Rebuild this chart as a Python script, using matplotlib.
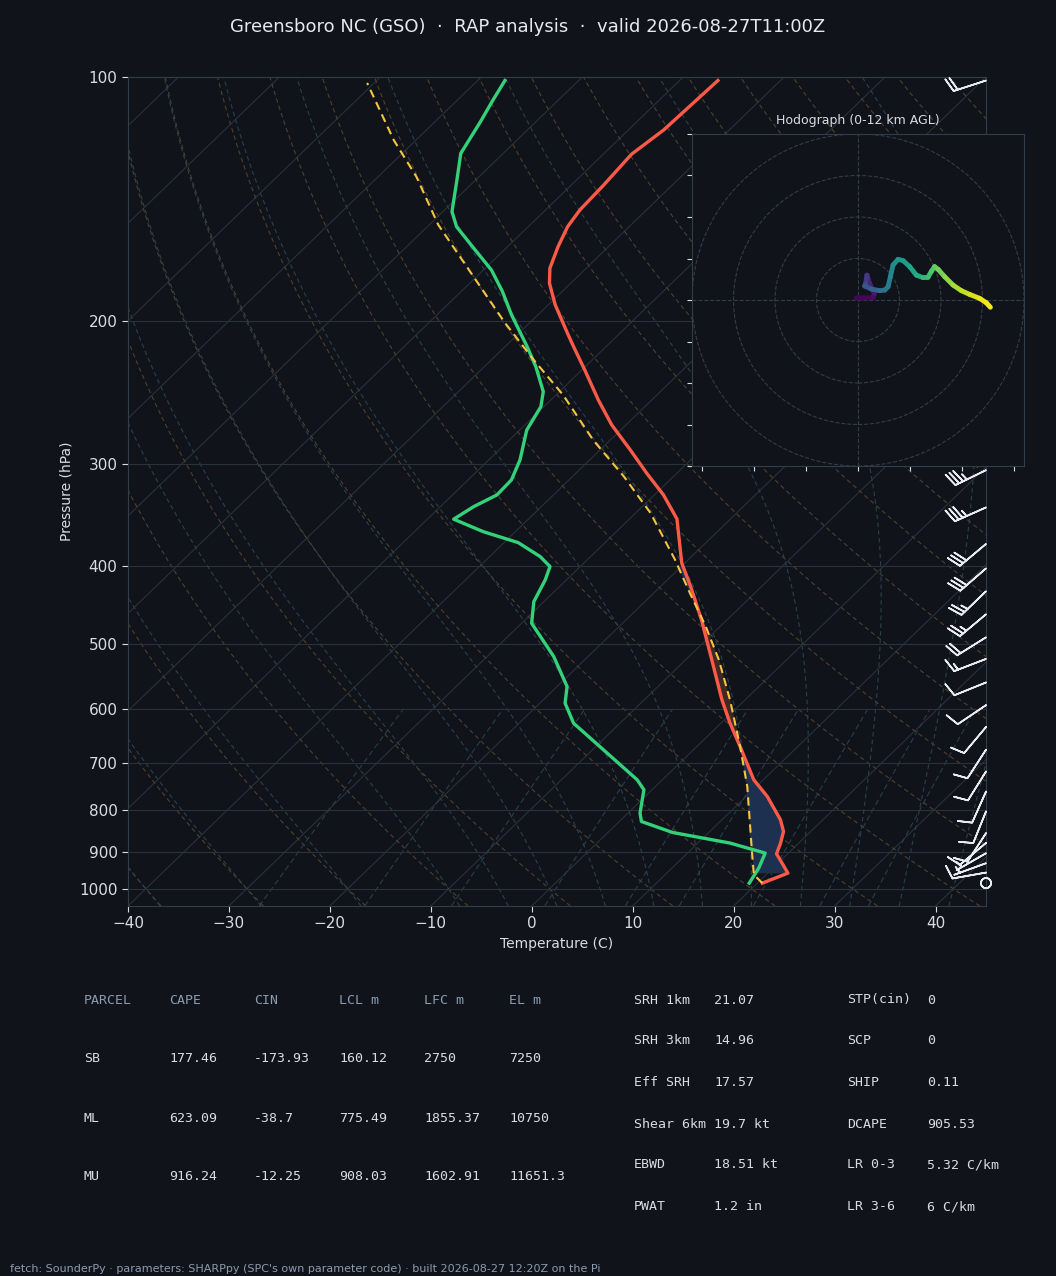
import numpy as np
import matplotlib.pyplot as plt
from matplotlib.collections import LineCollection
from matplotlib.patches import Circle
from matplotlib.ticker import NullLocator
from matplotlib.transforms import Affine2D, blended_transform_factory

# ---- sounding ----
t_pres = [984, 956.5, 929.7, 905.6, 878.4, 850.0, 822.2, 769.6, 734.0, 668.1,
          625.2, 585.1, 522.4, 466.6, 424.4, 397.0, 350.3, 327.2, 307.6, 288.0,
          268.3, 249.9, 229.6, 214.9, 206.8, 190.9, 179.5, 172.0, 161.8, 152.9,
          145.8, 135.8, 124.5, 116.2, 101]
t_temp = [20.5, 22.0, 20.4, 18.9, 18.2, 17.3, 15.8, 12.1, 9.05, 4.3,
          0.9, -2.3, -7.4, -12.5, -17.0, -20.3, -25.3, -29.1, -33.0, -37.0,
          -41.4, -45.3, -49.7, -53.2, -55.2, -59.3, -62.1, -63.6, -65.0, -66.1,
          -66.6, -66.8, -67.2, -66.5, -66.2]

d_pres = [984, 943, 903.7, 878.4, 852.3, 826.2, 806.8, 755.2, 734.0, 668.1,
          625.2, 590.6, 563.5, 517.5, 470.9, 442.9, 416.4, 400.9, 389.7, 374.6,
          363.1, 350.5, 338.2, 327.2, 313.6, 296.3, 272.2, 254.7, 244.1, 227.4,
          214.9, 196.4, 183.8, 172.9, 162.5, 152.9, 146.5, 133.3, 124.2, 113.5,
          107.3, 101]
d_temp = [19.2, 18.6, 17.7, 13.2, 6.4, 2.2, 1.2, -0.8, -2.5, -9.6,
          -14.6, -17.5, -19.0, -23.4, -29.0, -31.0, -32.1, -33.0, -35.0, -38.6,
          -43.2, -47.4, -46.7, -45.6, -45.7, -46.9, -49.3, -50.3, -51.6, -54.9,
          -57.8, -62.6, -65.9, -69.2, -73.2, -77.1, -79.1, -82.0, -84.2, -85.5,
          -86.4, -87.3]

pcl_pres = [984, 961, 903.7, 748.2, 668.1, 585.1, 522.4, 475.4, 432.4, 393.3,
            344.6, 310.6, 280.0, 246.4, 223.1, 201.0, 152.1, 132.7, 119.6, 101.7]
pcl_temp = [20.5, 18.8, 16.4, 9.1, 4.3, -1.5, -6.7, -11.4, -16.4, -21.3,
            -28.5, -34.9, -41.7, -49.3, -55.8, -62.4, -79.1, -86.2, -92.2, -100.7]

# wind barbs (speed kt, direction deg)
wb_pres = [101, 130, 160, 200, 240, 275, 305, 339, 376, 403, 430, 459, 490, 521,
           557, 594, 632, 674, 717, 759, 803, 854, 878, 904, 930, 955, 984]
wb_spd = [20, 30, 35, 40, 40, 35, 35, 35, 30, 30, 25, 25, 20, 15,
          10, 10, 10, 10, 10, 10, 10, 10, 10, 5, 5, 10, 0]
wb_dir = [252, 255, 260, 258, 252, 248, 244, 246, 230, 229, 226, 230, 238, 249,
          248, 236, 220, 213, 212, 204, 202, 213, 230, 240, 250, 260, 0]

# hodograph trace (kt) and height (km)
hodo_u = [-0.8, 7.2, 7.9, 5.9, 4.8, 4.3, 3.7, 3.2, 6.4, 10.4, 12.9, 14.5, 15.6, 16.9, 19.3,
          21.7, 24.9, 28.1, 31.3, 33.7, 35.3, 36.9, 38.6, 41.8, 45.8, 49.8, 53.8, 58.6, 61.8, 63.8]
hodo_v = [1.0, 1.1, 3.2, 7.2, 10.4, 12.0, 8.0, 6.7, 5.3, 4.5, 4.8, 6.4, 11.2, 16.9, 19.6,
          19.0, 16.1, 12.0, 10.8, 10.9, 13.7, 16.1, 14.8, 11.2, 7.2, 4.5, 2.7, 0.8, -1.3, -3.5]
hodo_z = [0, 0.3, 0.6, 1.0, 1.4, 1.7, 2.3, 2.8, 3.4, 4.0, 4.4, 4.8, 5.2, 5.7, 6.1,
          6.4, 6.8, 7.2, 7.7, 8.1, 8.5, 8.9, 9.2, 9.7, 10.2, 10.7, 11.1, 11.5, 11.8, 12.0]

# ---- parameter tables ----
parcel_head = ['PARCEL', 'CAPE', 'CIN', 'LCL m', 'LFC m', 'EL m']
parcel_rows = [['SB', '177.46', '-173.93', '160.12', '2750', '7250'],
               ['ML', '623.09', '-38.7', '775.49', '1855.37', '10750'],
               ['MU', '916.24', '-12.25', '908.03', '1602.91', '11651.3']]
kin_names = ['SRH 1km', 'SRH 3km', 'Eff SRH', 'Shear 6km', 'EBWD', 'PWAT']
kin_vals = ['21.07', '14.96', '17.57', '19.7 kt', '18.51 kt', '1.2 in']
comp_names = ['STP(cin)', 'SCP', 'SHIP', 'DCAPE', 'LR 0-3', 'LR 3-6']
comp_vals = ['0', '0', '0.11', '905.53', '5.32 C/km', '6 C/km']

title = 'Greensboro NC (GSO)  \u00b7  RAP analysis  \u00b7  valid 2026-08-27T11:00Z'
footer = ("fetch: SounderPy \u00b7 parameters: SHARPpy (SPC's own parameter code) "
          "\u00b7 built 2026-08-27 12:20Z on the Pi")

BG = '#10141a'
GRID = '#29313b'
SPINE = '#333d4a'
TXT = '#d9dde3'
HEAD = '#8c9bb0'

W, H = 1056, 1276
fig = plt.figure(figsize=(W / 100, H / 100), dpi=100, facecolor=BG)


def px(x, y):
    return x / W, 1 - y / H


ax = fig.add_axes([128 / W, 1 - 906 / H, 858 / W, 829 / H], facecolor=BG)
ax.set_yscale('log')
ax.set_ylim(1050, 100)
ax.set_xlim(-40, 45)
skew = ax.transScale + ax.transLimits + Affine2D().skew_deg(45, 0) + ax.transAxes

# isotherms
for t0 in np.arange(-130, 46, 10):
    ax.plot([t0, t0], [1050, 100], transform=skew, color=GRID, lw=0.8, zorder=1)

# dry adiabats
p_up = np.linspace(1050, 100, 200)
for th in np.arange(-40, 201, 10) + 273.15:
    ax.plot(th * (p_up / 1000.0) ** 0.2857 - 273.15, p_up, transform=skew,
            color='#4f402e', lw=0.8, ls=(0, (4, 3)), zorder=1)

# moist adiabats
Rd, Cp, Lv, eps = 287.04, 1005.7, 2.501e6, 0.622


def dtdp(p, t):
    es = 6.112 * np.exp(17.67 * (t - 273.15) / (t - 29.65))
    rs = eps * es / (p - es)
    return (Rd * t + Lv * rs) / (Cp + Lv ** 2 * rs * eps / (Rd * t ** 2)) / p


def integrate(t0, plevs):
    out = [t0]
    for p1, p2 in zip(plevs[:-1], plevs[1:]):
        h = p2 - p1
        tt = out[-1]
        k1 = dtdp(p1, tt)
        k2 = dtdp(p1 + h / 2, tt + h / 2 * k1)
        k3 = dtdp(p1 + h / 2, tt + h / 2 * k2)
        k4 = dtdp(p2, tt + h * k3)
        out.append(tt + h / 6 * (k1 + 2 * k2 + 2 * k3 + k4))
    return np.array(out)


t_moist = np.concatenate((np.arange(-50, -10, 10), np.arange(-10, 46, 5))) + 273.15
pu = np.linspace(1000, 100, 181)
pd = np.array([1000, 1025, 1050])
tu = integrate(t_moist, pu)
td_ = integrate(t_moist, pd)
for i in range(len(t_moist)):
    pp = np.concatenate((pd[::-1], pu[1:]))
    tt = np.concatenate((td_[::-1, i], tu[1:, i])) - 273.15
    ax.plot(tt, pp, transform=skew, color='#2b404c', lw=0.8, ls=(0, (4, 3)), zorder=1)

# mixing ratio lines (1050 - 600 hPa)
p_mr = np.linspace(1050, 600, 40)
for w in [0.0004, 0.001, 0.002, 0.004, 0.007, 0.01, 0.016, 0.024, 0.032]:
    e = p_mr * w / (eps + w)
    le = np.log(e / 6.112)
    ax.plot(243.5 * le / (17.67 - le), p_mr, transform=skew, color='#2a3d4d',
            lw=0.8, ls=(0, (5, 3)), zorder=1)

# buoyancy fills
pf = np.geomspace(957, 400, 300)
lt = np.log(np.array(t_pres)[::-1])
lp = np.log(np.array(pcl_pres)[::-1])
ti = np.interp(np.log(pf), lt, np.array(t_temp)[::-1])
tpi = np.interp(np.log(pf), lp, np.array(pcl_temp)[::-1])
ax.fill_betweenx(pf, ti, tpi, where=ti >= tpi, interpolate=True, transform=skew,
                 color='#1e3050', lw=0, zorder=2)
ax.fill_betweenx(pf, ti, tpi, where=tpi > ti, interpolate=True, transform=skew,
                 color='#3e2a24', lw=0, zorder=2)

# profiles
ax.plot(t_temp, t_pres, transform=skew, color='#fb5a48', lw=2.4, zorder=4)
ax.plot(d_temp, d_pres, transform=skew, color='#33d17a', lw=2.4, zorder=4)
ax.plot(pcl_temp, pcl_pres, transform=skew, color='#f5c542', lw=1.5,
        ls=(0, (4, 2.5)), zorder=5)

# wind barbs on the right edge
wd = np.radians(wb_dir)
wu = -np.array(wb_spd) * np.sin(wd)
wv = -np.array(wb_spd) * np.cos(wd)
bt = blended_transform_factory(ax.transAxes, ax.transData)
ax.barbs(np.ones(len(wb_pres)), wb_pres, wu, wv, transform=bt, color='#e8ebef',
         length=7, linewidth=1.2, clip_on=False, zorder=6)

ax.set_xlim(-40, 45)
ax.set_ylim(1050, 100)
levels = [100, 200, 300, 400, 500, 600, 700, 800, 900, 1000]
ax.set_yticks(levels)
ax.set_yticklabels([str(l) for l in levels])
ax.yaxis.set_minor_locator(NullLocator())
ax.set_xticks(np.arange(-40, 41, 10))
ax.grid(axis='y', color=GRID, lw=0.8)
ax.grid(axis='x', visible=False)
ax.tick_params(colors=TXT, labelsize=11, length=4)
for s in ax.spines.values():
    s.set_color(SPINE)
ax.set_xlabel('Temperature (C)', color=TXT, fontsize=10)
ax.set_ylabel('Pressure (hPa)', color=TXT, fontsize=10)

# hodograph inset
hx = fig.add_axes([692 / W, 1 - 466 / H, 332 / W, 332 / H], facecolor=BG)
hx.set_xlim(-80, 80)
hx.set_ylim(-80, 80)
for r in (20, 40, 60, 80):
    hx.add_patch(Circle((0, 0), r, fill=False, ls='--', color='#323c49', lw=0.8))
hx.axhline(0, color='#323c49', lw=0.8, ls='--')
hx.axvline(0, color='#323c49', lw=0.8, ls='--')
pts = np.column_stack([hodo_u, hodo_v])
segs = np.stack([pts[:-1], pts[1:]], axis=1)
hz = np.array(hodo_z)
lc = LineCollection(segs, cmap='viridis', norm=plt.Normalize(0, 12),
                    linewidths=3.5, capstyle='round', joinstyle='round')
lc.set_array((hz[:-1] + hz[1:]) / 2)
hx.add_collection(lc)
hx.set_xticks(np.arange(-75, 76, 25))
hx.set_yticks(np.arange(-80, 81, 20))
hx.tick_params(labelbottom=False, labelleft=False, colors=TXT, length=3.5)
for s in hx.spines.values():
    s.set_color(SPINE)
hx.set_title('Hodograph (0-12 km AGL)', fontsize=9, color=TXT, pad=7)

fig.text(0.5, 1 - 27 / H, title, ha='center', va='center', fontsize=13, color='#e6e9ee')

# tables
mono = dict(family='DejaVu Sans Mono', fontsize=9.5, va='center')
col_x = [84, 169, 254, 339, 424, 509]
for x, h in zip(col_x, parcel_head):
    fig.text(*px(x, 1000), h, color=HEAD, **mono)
for row, y in zip(parcel_rows, [1059, 1118, 1176]):
    for x, val in zip(col_x, row):
        fig.text(*px(x, y), val, color=TXT, **mono)

row_y = [1000, 1041, 1083, 1124, 1165, 1207]
for y, n, v, n2, v2 in zip(row_y, kin_names, kin_vals, comp_names, comp_vals):
    fig.text(*px(634, y), n, color=TXT, **mono)
    fig.text(*px(714, y), v, color=TXT, **mono)
    fig.text(*px(847, y), n2, color=TXT, **mono)
    fig.text(*px(927, y), v2, color=TXT, **mono)

fig.text(*px(10, 1269), footer, fontsize=8, color=HEAD, va='center')

fig.savefig('out.png', dpi=100, facecolor=BG)
